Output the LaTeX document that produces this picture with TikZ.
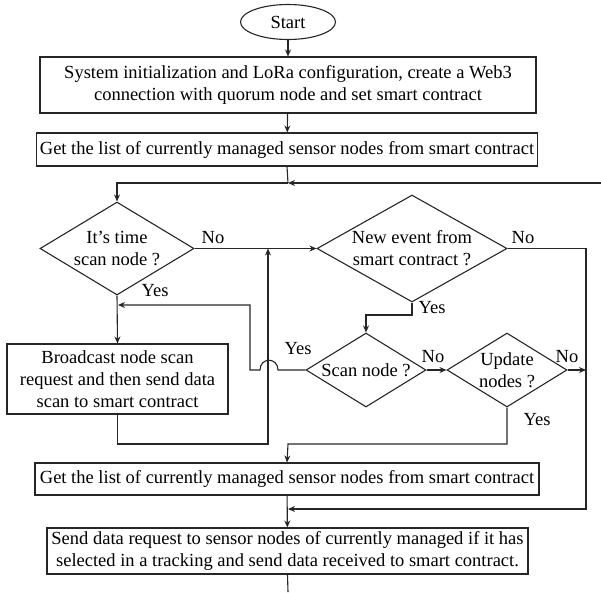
\documentclass[tikz,border=0pt]{standalone}
\usepackage{fontspec}
\setmainfont{Liberation Serif}
\usetikzlibrary{shapes.geometric,arrows.meta}
\begin{document}
\begin{tikzpicture}[x=1pt,y=-1pt,
  font=\fontsize{18.5}{22}\selectfont,
  line width=1.1pt,
  procbox/.style={draw=black!85, rectangle, inner sep=0pt, align=center},
  decision/.style={draw=black!85, diamond, inner sep=0pt},
  startnode/.style={draw=black!85, ellipse, inner sep=0pt},
  dtext/.style={align=center, inner sep=0pt},
  flow/.style={draw=black!85, -{Stealth[length=7pt,width=6pt]}},
  wire/.style={draw=black!85},
  lbl/.style={inner sep=0pt}
]
\useasboundingbox (0,0) rectangle (601,592);

% start and set-up steps
\node[startnode, minimum width=95, minimum height=35] (start) at (288,22) {Start};
\node[procbox, minimum width=496, minimum height=56] (init) at (288,85)
  {System initialization and LoRa configuration, create a Web3\\connection with quorum node and set smart contract};
\node[procbox, minimum width=501, minimum height=33] (list1) at (287,149.5)
  {Get the list of currently managed sensor nodes from smart contract};

% decisions
\node[decision, minimum width=154, minimum height=93] (scantime) at (117,248.5) {};
\node[dtext] at (scantime) {It's time\\scan node ?};
\node[decision, minimum width=190, minimum height=107] (event) at (412,248.5) {};
\node[dtext] at (event) {New event from\\smart contract ?};
\node[decision, minimum width=120, minimum height=74] (scan) at (366,370) {};
\node[dtext] at (scan) {Scan node ?};
\node[decision, minimum width=120, minimum height=74] (update) at (507,370) {};
\node[dtext] at (update) {Update\\nodes ?};

% remaining steps
\node[procbox, minimum width=221, minimum height=70] (bcast) at (117.5,379)
  {Broadcast node scan\\request and then send data\\scan to smart contract};
\node[procbox, minimum width=504, minimum height=32] (list2) at (287,479)
  {Get the list of currently managed sensor nodes from smart contract};
\node[procbox, minimum width=481, minimum height=46] (send) at (287.5,551)
  {Send data request to sensor nodes of currently managed if it has\\selected in a tracking and send data received to smart contract.};

% junction points
\coordinate (topj) at (288,183);
\coordinate (loopin) at (601,183);
\coordinate (noj) at (268,248.5);
\coordinate (yesj) at (118,305);
\coordinate (rightj) at (586,370);
\coordinate (botj) at (288,509);
\coordinate (bottom) at (288,592);

% connectors
\draw[flow] (start) -- (init);
\draw[flow] (init) -- (list1);
\draw[wire] (list1.south) -- (topj);
\draw[flow] (loopin) -- (topj);
\draw[flow] (topj) -| (scantime.north);
\draw[flow] (scantime.east) -- (event.west);
\draw[flow] (scantime.south) -- (bcast.north);
\draw[flow] (bcast.south) |- (268,444) -- (noj);
\draw[wire] (event.east) -| (rightj);
\draw[flow] (rightj) |- (botj);
\draw[flow] (event.south) |- (366,315) -- (scan.north);
\draw[flow] (scan.west) -- (278,370) .. controls (278,357) and (260,357) .. (260,370)
  -- (250,370) |- (yesj);
\draw[flow] (scan.east) -- (update.west);
\draw[flow] (update.east) -- (rightj);
\draw[flow] (update.south) |- (288,444) -- (list2.north);
\draw[flow] (list2) -- (send);
\draw[wire] (send.south) -- (bottom);

% branch labels
\node[lbl] at (213,238) {No};
\node[lbl] at (155,291) {Yes};
\node[lbl] at (523,238) {No};
\node[lbl] at (432,308) {Yes};
\node[lbl] at (298,349) {Yes};
\node[lbl] at (433,357) {No};
\node[lbl] at (567,357) {No};
\node[lbl] at (537,420) {Yes};
\end{tikzpicture}
\end{document}
